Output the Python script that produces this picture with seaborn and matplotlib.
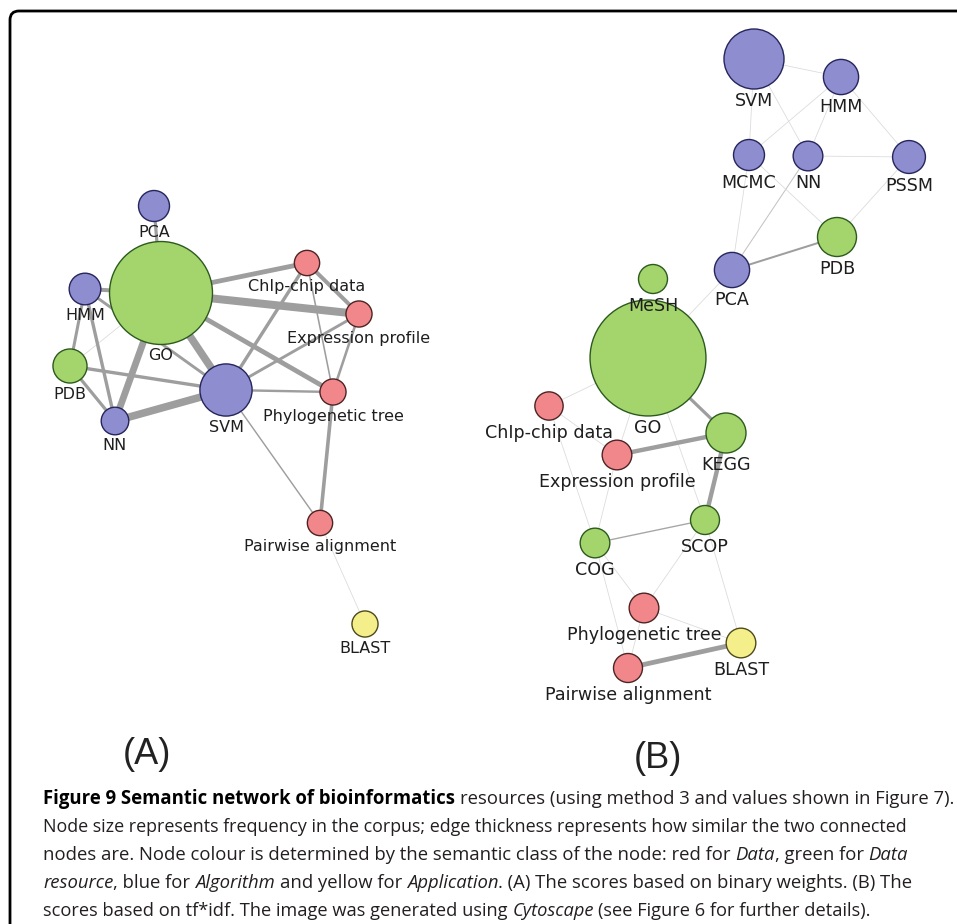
import numpy as np
import pandas as pd
import matplotlib
matplotlib.use("Agg")
import matplotlib.pyplot as plt
import seaborn as sns
from matplotlib.path import Path
from matplotlib.patches import PathPatch

W, H = 957, 924

# ---------------- Panel A: scores from binary weights ----------------
a_nodes = ["PCA", "GO", "HMM", "PDB", "NN", "SVM", "ChIp-chip data",
           "Expression profile", "Phylogenetic tree", "Pairwise alignment", "BLAST"]
a_class = ["Algorithm", "Data resource", "Algorithm", "Data resource", "Algorithm",
           "Algorithm", "Data", "Data", "Data", "Data", "Application"]
a_freq = [24, 265, 25, 29, 19, 68, 16, 17, 17, 16, 17]
a_x = [154, 161, 85, 70, 115, 226, 307, 359, 333, 320, 365]
a_y = [206, 293, 289, 366, 421, 390, 263, 314, 392, 523, 624]

a_src = ["GO", "GO", "GO", "GO", "GO", "GO", "GO", "GO", "HMM", "HMM", "HMM", "PDB",
         "PDB", "NN", "SVM", "SVM", "SVM", "SVM", "ChIp-chip data", "ChIp-chip data",
         "Expression profile", "Phylogenetic tree", "Pairwise alignment"]
a_dst = ["PCA", "ChIp-chip data", "Expression profile", "Phylogenetic tree", "SVM", "NN",
         "HMM", "PDB", "PDB", "NN", "SVM", "SVM", "NN", "SVM", "ChIp-chip data",
         "Expression profile", "Phylogenetic tree", "Pairwise alignment",
         "Expression profile", "Phylogenetic tree", "Phylogenetic tree",
         "Pairwise alignment", "BLAST"]
a_sim = [0.40, 0.60, 1.00, 0.60, 0.95, 0.85, 0.50, 0.09, 0.38, 0.42, 0.36, 0.42,
         0.40, 0.95, 0.42, 0.36, 0.30, 0.18, 0.50, 0.20, 0.32, 0.45, 0.09]

# ---------------- Panel B: scores from tf*idf ----------------
b_nodes = ["SVM", "HMM", "MCMC", "NN", "PSSM", "PDB", "PCA", "MeSH", "GO",
           "ChIp-chip data", "Expression profile", "KEGG", "SCOP", "COG",
           "Phylogenetic tree", "BLAST", "Pairwise alignment"]
b_class = ["Algorithm", "Algorithm", "Algorithm", "Algorithm", "Algorithm",
           "Data resource", "Algorithm", "Data resource", "Data resource", "Data", "Data",
           "Data resource", "Data resource", "Data resource", "Data", "Application", "Data"]
b_freq = [90, 31, 24, 22, 27, 38, 31, 21, 336, 20, 22, 40, 21, 22, 22, 22, 21]
b_x = [754, 841, 749, 808, 909, 837, 732, 653, 648, 549, 617, 726, 705, 595, 644, 741, 628]
b_y = [59, 77, 155, 156, 157, 237, 270, 279, 358, 406, 455, 433, 520, 543, 608, 643, 668]

b_src = ["SVM", "SVM", "SVM", "HMM", "HMM", "HMM", "NN", "MCMC", "NN", "MCMC", "PSSM",
         "PCA", "PCA", "GO", "GO", "GO", "GO", "ChIp-chip data", "ChIp-chip data",
         "Expression profile", "KEGG", "Expression profile", "COG", "COG", "COG",
         "SCOP", "SCOP", "Phylogenetic tree", "Phylogenetic tree", "Pairwise alignment"]
b_dst = ["HMM", "MCMC", "NN", "MCMC", "NN", "PSSM", "PSSM", "PCA", "PCA", "PDB", "PDB",
         "PDB", "GO", "KEGG", "ChIp-chip data", "Expression profile", "SCOP",
         "Expression profile", "COG", "KEGG", "SCOP", "COG", "SCOP",
         "Phylogenetic tree", "Pairwise alignment", "Phylogenetic tree", "BLAST",
         "BLAST", "Pairwise alignment", "BLAST"]
b_sim = [0.10, 0.10, 0.10, 0.10, 0.10, 0.10, 0.10, 0.10, 0.13, 0.10, 0.10,
         0.25, 0.10, 0.40, 0.10, 0.10, 0.10, 0.10, 0.10, 0.55, 0.55, 0.10, 0.17,
         0.10, 0.10, 0.10, 0.10, 0.10, 0.10, 0.60]

class_fill = {"Data": "#f2878b", "Data resource": "#a4d56d",
              "Algorithm": "#8d8dcf", "Application": "#f4ef8a"}
class_edge = {"Data": "#4d2424", "Data resource": "#2c5a1d",
              "Algorithm": "#25255c", "Application": "#4d4a1c"}

caption_lines = [
    [("Figure 9 Semantic network of bioinformatics", "bold"),
     (" resources (using method 3 and values shown in Figure 7).", "normal")],
    [("Node size represents frequency in the corpus; edge thickness represents how "
      "similar the two connected", "normal")],
    [("nodes are. Node colour is determined by the semantic class of the node: red for ",
      "normal"), ("Data", "italic"), (", green for ", "normal"), ("Data", "italic")],
    [("resource", "italic"), (", blue for ", "normal"), ("Algorithm", "italic"),
     (" and yellow for ", "normal"), ("Application", "italic"),
     (". (A) The scores based on binary weights. (B) The", "normal")],
    [("scores based on tf*idf. The image was generated using ", "normal"),
     ("Cytoscape", "italic"), (" (see Figure 6 for further details).", "normal")],
]

sns.set_theme(style="white")
plt.rcParams["font.family"] = ["DejaVu Sans"]

fig = plt.figure(figsize=(W / 100, H / 100), dpi=100)
ax = fig.add_axes([0, 0, 1, 1])
ax.set_xlim(0, W)
ax.set_ylim(H, 0)
ax.axis("off")

PX = 0.72          # points per pixel at 100 dpi
AREA_UNIT = 10.0   # px^2 of node area per frequency unit
FMAX = 400.0


def edge_style(sim):
    width_px = max(0.8, 8.0 * sim)
    grey = 0.86 - 0.24 * np.clip((sim - 0.1) / 0.08, 0, 1)
    return width_px * PX, (grey, grey, grey)


def draw_panel(names, classes, freq, xs, ys, src, dst, sim, label_size, label_gap):
    nodes = pd.DataFrame({"name": names, "cls": classes, "freq": freq, "x": xs, "y": ys})
    pos = nodes.set_index("name")[["x", "y"]]
    for s, d, w in zip(src, dst, sim):
        lw, col = edge_style(w)
        ax.plot([pos.loc[s, "x"], pos.loc[d, "x"]], [pos.loc[s, "y"], pos.loc[d, "y"]],
                color=col, lw=lw, solid_capstyle="butt", zorder=1)
    smax = FMAX * AREA_UNIT * 4 * PX ** 2
    sns.scatterplot(data=nodes, x="x", y="y", hue="cls", palette=class_fill,
                    size="freq", sizes=(0, smax), size_norm=(0, FMAX),
                    linewidth=1.0, legend=False, ax=ax, zorder=3)
    coll = ax.collections[-1]
    coll.set_edgecolors([class_edge[c] for c in nodes["cls"]])
    coll.set_linewidths(1.0)
    for _, row in nodes.iterrows():
        r = np.sqrt(row["freq"] * AREA_UNIT)
        ax.text(row["x"], row["y"] + r + label_gap, row["name"], ha="center",
                va="center", fontsize=label_size, color="#1e1e1e", zorder=4)


draw_panel(a_nodes, a_class, a_freq, a_x, a_y, a_src, a_dst, a_sim, 11.5, 11)
draw_panel(b_nodes, b_class, b_freq, b_x, b_y, b_src, b_dst, b_sim, 12.6, 12.5)

# panel tags
ax.text(147, 755, "(A)", ha="center", va="center", fontsize=26,
        family="Liberation Sans", color="#222222")
ax.text(658, 759, "(B)", ha="center", va="center", fontsize=26,
        family="Liberation Sans", color="#222222")

# open frame with a rounded top-left corner
rad = 9
frame = Path([(10, H), (10, 11 + rad), (10, 11), (10 + rad, 11), (W, 11)],
             [Path.MOVETO, Path.LINETO, Path.CURVE3, Path.CURVE3, Path.LINETO])
ax.add_patch(PathPatch(frame, fill=False, lw=2.0, color="black", zorder=5))

# caption: styled runs set one after another, each line sized to its measure
fig.canvas.draw()
renderer = fig.canvas.get_renderer()
cap_font = "Open Sans"
styles = {"normal": dict(weight="normal", style="normal", color="#231f20"),
          "bold": dict(weight="bold", style="normal", color="#000000"),
          "italic": dict(weight="normal", style="italic", color="#231f20")}


def ink_width(s, size, st):
    t = ax.text(0, 0, s, fontsize=size, family=cap_font, **styles[st])
    w = t.get_window_extent(renderer=renderer).width
    t.remove()
    return w


def advance(s, size, st):
    # full advance width, side bearings included, pinned between two bars
    return ink_width("|" + s + "|", size, st) - ink_width("||", size, st)


probe = 12.0
x0 = 43
line_right = [952, 909, 908, 911, 873]
baseline0, step = 804, 28
base_size = probe * 866.0 / advance(caption_lines[1][0][0], probe, "normal")
for i, pieces in enumerate(caption_lines):
    natural = sum(advance(s, base_size, st) for s, st in pieces)
    size = base_size * (line_right[i] - x0) / natural
    size = float(np.clip(size, base_size * 0.97, base_size * 1.04))
    x = x0
    yb = baseline0 + i * step
    for s, st in pieces:
        lead = len(s) - len(s.lstrip(" "))
        core = s.lstrip(" ")
        x += lead * advance(" ", size, st)
        ax.text(x, yb, core.rstrip(" "), fontsize=size, family=cap_font, ha="left",
                va="baseline", **styles[st])
        x += advance(core, size, st)

fig.savefig("out.png", dpi=100)
